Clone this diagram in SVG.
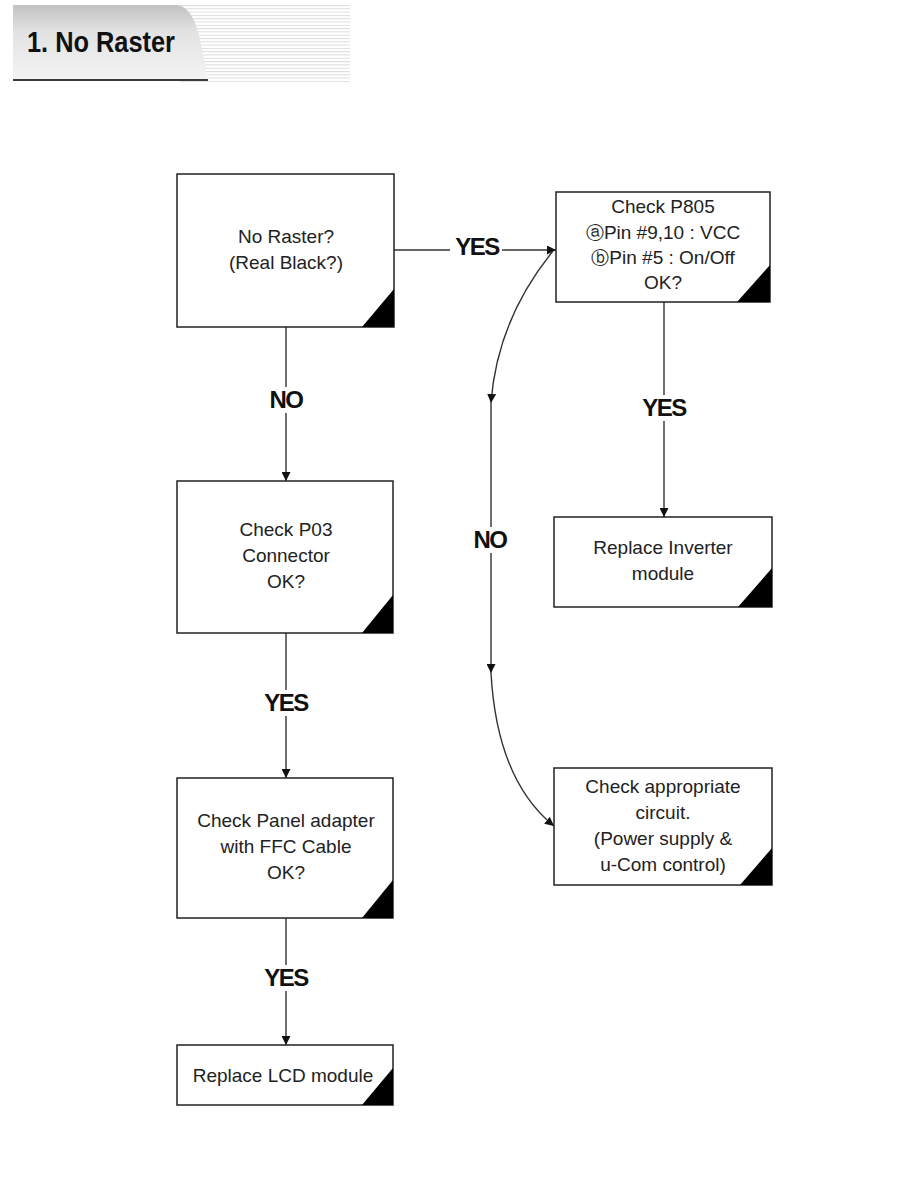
<svg xmlns="http://www.w3.org/2000/svg" width="918" height="1188" viewBox="0 0 918 1188">
<defs>
<linearGradient id="tabg" x1="0" y1="0" x2="0" y2="1">
<stop offset="0" stop-color="#c2c2c2"/>
<stop offset="0.35" stop-color="#e2e2e2"/>
<stop offset="1" stop-color="#f4f4f4"/>
</linearGradient>
<pattern id="stripes" x="0" y="5" width="4" height="3.3" patternUnits="userSpaceOnUse">
<rect x="0" y="0" width="4" height="1" fill="#dcdcdc"/>
</pattern>
<marker id="arr" viewBox="0 0 10 10" refX="10" refY="5" markerWidth="9" markerHeight="9" markerUnits="userSpaceOnUse" orient="auto">
<path d="M0 0 L10 5 L0 10 Z" fill="#111"/>
</marker>
</defs>
<style>
.box{fill:#fff;stroke:#222;stroke-width:1.5}
.cor{fill:#000}
.t{font-family:"Liberation Sans",Arial,sans-serif;font-size:19px;fill:#222;text-anchor:middle}
.lbl{font-family:"Liberation Sans",Arial,sans-serif;font-size:24px;font-weight:bold;fill:#111;text-anchor:middle;letter-spacing:-1.5px}
.ln{fill:none;stroke:#333;stroke-width:1.4}
.lb{fill:#fff}
.circ{font-family:"DejaVu Sans",sans-serif;font-size:18px}
</style>
<rect width="918" height="1188" fill="#fff"/>
<g id="header">
<rect x="180" y="5" width="170" height="77" fill="url(#stripes)"/>
<path d="M13 5 H178 Q192 8 199 35 L208 80 H13 Z" fill="url(#tabg)"/>
<line x1="13" y1="80" x2="208" y2="80" stroke="#3a3a3a" stroke-width="2"/>
<text x="27" y="52" font-family="Liberation Sans,Arial,sans-serif" font-size="30" font-weight="bold" fill="#111" textLength="148" lengthAdjust="spacingAndGlyphs">1. No Raster</text>
</g>
<g id="connectors">
<line class="ln" x1="394" y1="250" x2="556" y2="250" marker-end="url(#arr)"/>
<path class="ln" d="M553 251 Q497 320 491 403" marker-end="url(#arr)"/>
<line class="ln" x1="491" y1="403" x2="491" y2="673" marker-end="url(#arr)"/>
<path class="ln" d="M491 673 Q497 780 554 826" marker-end="url(#arr)"/>
<line class="ln" x1="664" y1="302" x2="664" y2="517" marker-end="url(#arr)"/>
<line class="ln" x1="286" y1="327" x2="286" y2="481" marker-end="url(#arr)"/>
<line class="ln" x1="286" y1="633" x2="286" y2="778" marker-end="url(#arr)"/>
<line class="ln" x1="286" y1="918" x2="286" y2="1045" marker-end="url(#arr)"/>
<rect class="lb" x="450" y="234" width="52" height="26"/>
<text class="lbl" x="477" y="255">YES</text>
<rect class="lb" x="266" y="387" width="40" height="26"/>
<text class="lbl" x="286" y="408">NO</text>
<rect class="lb" x="638" y="395" width="52" height="26"/>
<text class="lbl" x="664" y="416">YES</text>
<rect class="lb" x="470" y="527" width="42" height="26"/>
<text class="lbl" x="490" y="548">NO</text>
<rect class="lb" x="260" y="690" width="52" height="26"/>
<text class="lbl" x="286" y="711">YES</text>
<rect class="lb" x="260" y="965" width="52" height="26"/>
<text class="lbl" x="286" y="986">YES</text>
</g>
<g id="n1">
<rect class="box" x="177" y="174" width="217" height="153"/>
<path class="cor" d="M362 327 L394 289 L394 327 Z"/>
<text class="t" x="286" y="243">No Raster?</text>
<text class="t" x="286" y="269">(Real Black?)</text>
</g>
<g id="n2">
<rect class="box" x="556" y="192" width="214" height="110"/>
<path class="cor" d="M737 302 L770 265 L770 302 Z"/>
<text class="t" x="663" y="213">Check P805</text>
<text class="t" x="663" y="239"><tspan class="circ">ⓐ</tspan>Pin #9,10 : VCC</text>
<text class="t" x="663" y="264"><tspan class="circ">ⓑ</tspan>Pin #5 : On/Off</text>
<text class="t" x="663" y="289">OK?</text>
</g>
<g id="n3">
<rect class="box" x="177" y="481" width="216" height="152"/>
<path class="cor" d="M362 633 L393 595 L393 633 Z"/>
<text class="t" x="286" y="536">Check P03</text>
<text class="t" x="286" y="562">Connector</text>
<text class="t" x="286" y="588">OK?</text>
</g>
<g id="n4">
<rect class="box" x="554" y="517" width="218" height="90"/>
<path class="cor" d="M738 607 L772 568 L772 607 Z"/>
<text class="t" x="663" y="554">Replace Inverter</text>
<text class="t" x="663" y="580">module</text>
</g>
<g id="n5">
<rect class="box" x="554" y="768" width="218" height="117"/>
<path class="cor" d="M740 885 L772 848 L772 885 Z"/>
<text class="t" x="663" y="793">Check appropriate</text>
<text class="t" x="663" y="819">circuit.</text>
<text class="t" x="663" y="845">(Power supply &amp;</text>
<text class="t" x="663" y="871">u-Com control)</text>
</g>
<g id="n6">
<rect class="box" x="177" y="778" width="216" height="140"/>
<path class="cor" d="M362 918 L393 880 L393 918 Z"/>
<text class="t" x="286" y="827">Check Panel adapter</text>
<text class="t" x="286" y="853">with FFC Cable</text>
<text class="t" x="286" y="879">OK?</text>
</g>
<g id="n7">
<rect class="box" x="177" y="1045" width="216" height="60"/>
<path class="cor" d="M362 1105 L393 1068 L393 1105 Z"/>
<text class="t" x="283" y="1082">Replace LCD module</text>
</g>
</svg>
